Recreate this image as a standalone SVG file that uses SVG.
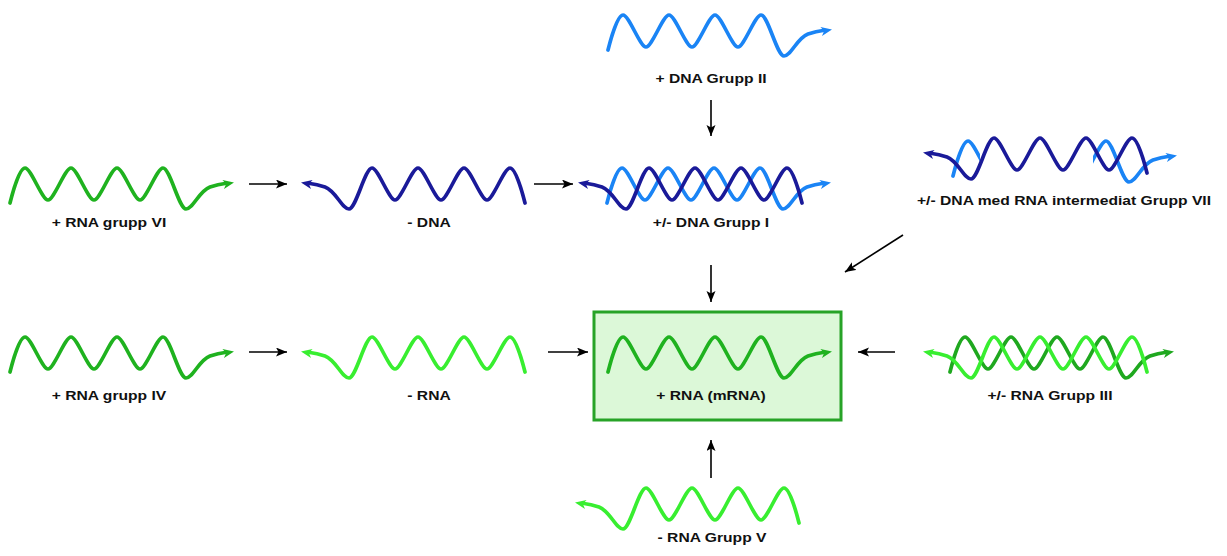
<svg xmlns="http://www.w3.org/2000/svg" xmlns:xlink="http://www.w3.org/1999/xlink" width="1227" height="556" viewBox="0 0 1227 556">
<style>
.strand{fill:none;stroke:currentColor;stroke-width:3.7;stroke-linecap:round;stroke-linejoin:round}
.head{fill:currentColor;stroke:none}
.lb{color:#1a84f5}
.db{color:#1a1a99}
.g{color:#1fb21f}
.lg{color:#38ee30}
.dg{color:#1fa81f}
.lbl{font-family:"Liberation Sans",Arial,Helvetica,sans-serif;font-weight:bold;font-size:13.5px;fill:#111;text-anchor:middle}
.conn{stroke:#000;stroke-width:1.6;fill:none}
</style>
<defs>
<g id="plus">
<path class="strand" d="M0,0 C4,-16 10,-35 15,-35 C21,-35 32,-3 38,-3 C44,-3 55,-35 61,-35 C67,-35 78,-3 84,-3 C90,-3 101,-35 107,-35 C113,-35 124,-3 130,-3 C136,-3 147,-35 153,-35 C160,-35 169,6 176,6 C183,6 189,-12 200,-16 C206,-18 210,-19 215,-19.5"/>
<path class="head" d="M224,-20.5 L212.4,-22.9 L216.1,-19 L214,-14.1 Z"/>
</g>
<marker id="ah" markerUnits="userSpaceOnUse" markerWidth="12" markerHeight="10" refX="11" refY="4.5" orient="auto">
<path d="M0,0 L11,4.5 L0,9 L2.5,4.5 Z" fill="#000"/>
</marker>
<clipPath id="c7" clipPathUnits="userSpaceOnUse">
<rect x="930" y="120" width="50" height="80"/>
<rect x="1093" y="120" width="100" height="80"/>
</clipPath>
</defs>
<rect width="1227" height="556" fill="#fff"/>

<g id="connectors">
<line class="conn" x1="249" y1="184" x2="287" y2="184" marker-end="url(#ah)"/>
<line class="conn" x1="534" y1="184" x2="573" y2="184" marker-end="url(#ah)"/>
<line class="conn" x1="711" y1="100" x2="711" y2="136" marker-end="url(#ah)"/>
<line class="conn" x1="711" y1="265" x2="711" y2="302" marker-end="url(#ah)"/>
<line class="conn" x1="903" y1="235" x2="845" y2="272" marker-end="url(#ah)"/>
<line class="conn" x1="249" y1="352" x2="287" y2="352" marker-end="url(#ah)"/>
<line class="conn" x1="548" y1="352" x2="588" y2="352" marker-end="url(#ah)"/>
<line class="conn" x1="895" y1="352" x2="858" y2="352" marker-end="url(#ah)"/>
<line class="conn" x1="711" y1="478" x2="711" y2="440" marker-end="url(#ah)"/>
</g>

<g id="dna-grupp-ii">
<use xlink:href="#plus" class="lb" transform="translate(608,50)"/>
<text class="lbl" transform="translate(711,83) scale(1.16,1)">+ DNA Grupp II</text>
</g>

<g id="rna-grupp-vi">
<use xlink:href="#plus" class="g" transform="translate(10,203)"/>
<text class="lbl" transform="translate(109,227) scale(1.16,1)">+ RNA grupp VI</text>
</g>

<g id="minus-dna">
<use xlink:href="#plus" class="db" transform="translate(525,203) scale(-1,1)"/>
<text class="lbl" transform="translate(429,227) scale(1.16,1)">- DNA</text>
</g>

<g id="dna-grupp-i">
<use xlink:href="#plus" class="lb" transform="translate(607,203)"/>
<use xlink:href="#plus" class="db" transform="translate(802,203) scale(-1,1)"/>
<text class="lbl" transform="translate(711,227) scale(1.16,1)">+/- DNA Grupp I</text>
</g>

<g id="dna-grupp-vii">
<g clip-path="url(#c7)">
<use xlink:href="#plus" class="lb" transform="translate(953,176)"/>
</g>
<use xlink:href="#plus" class="db" transform="translate(1147,173) scale(-1,1)"/>
<text class="lbl" transform="translate(1064,205) scale(1.16,1)">+/- DNA med RNA intermediat Grupp VII</text>
</g>

<g id="rna-grupp-iv">
<use xlink:href="#plus" class="g" transform="translate(10,372)"/>
<text class="lbl" transform="translate(109,400) scale(1.16,1)">+ RNA grupp IV</text>
</g>

<g id="minus-rna">
<use xlink:href="#plus" class="lg" transform="translate(525,372) scale(-1,1)"/>
<text class="lbl" transform="translate(429,400) scale(1.16,1)">- RNA</text>
</g>

<g id="mrna">
<rect x="594" y="312" width="247" height="108" fill="#dcf8d8" stroke="#27a327" stroke-width="3"/>
<use xlink:href="#plus" class="g" transform="translate(608,372)"/>
<text class="lbl" transform="translate(711,400) scale(1.16,1)">+ RNA (mRNA)</text>
</g>

<g id="rna-grupp-iii">
<use xlink:href="#plus" class="dg" transform="translate(950,372)"/>
<use xlink:href="#plus" class="lg" transform="translate(1147,372) scale(-1,1)"/>
<text class="lbl" transform="translate(1050,400) scale(1.16,1)">+/- RNA Grupp III</text>
</g>

<g id="rna-grupp-v">
<use xlink:href="#plus" class="lg" transform="translate(799,523) scale(-1,1)"/>
<text class="lbl" transform="translate(712,542) scale(1.16,1)">- RNA Grupp V</text>
</g>
</svg>
